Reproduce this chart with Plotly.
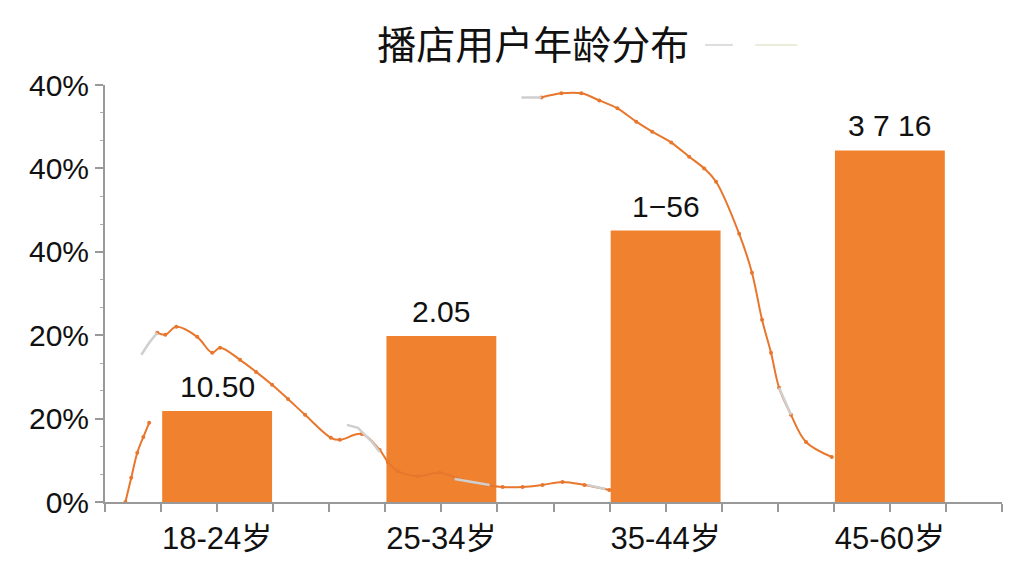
import plotly.graph_objects as go

# bars
age_groups = ["18-24岁", "25-34岁", "35-44岁", "45-60岁"]
bar_pos = [0, 1, 2, 3]
bar_values = [21.8, 39.8, 65.1, 84.3]
bar_labels = ["10.50", "2.05", "1−56", "3 7 16"]

# y axis ticks (labels as printed on the chart)
y_ticks = [0, 20, 40, 60, 80, 100]
y_ticktext = ["0%", "20%", "20%", "40%", "40%", "40%"]

# orange curve, in pieces
seg_a_x = [-0.409, -0.383, -0.356, -0.329, -0.303]
seg_a_y = [0, 5.8, 11.8, 15.6, 19.0]

seg_b_x = [-0.267, -0.231, -0.182, -0.089, -0.022, 0.013, 0.102, 0.174, 0.245, 0.316,
           0.392, 0.507, 0.547, 0.645, 0.725, 0.761, 0.806, 0.895, 0.992, 1.095,
           1.202, 1.273, 1.362, 1.451, 1.540, 1.638, 1.749]
seg_b_y = [40.6, 40.1, 42.0, 39.6, 35.8, 37.0, 34.1, 31.2, 28.1, 24.7,
           20.9, 15.4, 14.9, 16.3, 12.5, 9.6, 7.4, 6.2, 7.0, 5.3,
           4.1, 3.6, 3.6, 4.1, 4.8, 4.1, 2.9]

seg_c_x = [1.446, 1.535, 1.624, 1.704, 1.785, 1.869, 1.940, 2.025, 2.105, 2.172,
           2.225, 2.328, 2.385, 2.430, 2.470, 2.506, 2.559, 2.626, 2.741]
seg_c_y = [97.0, 98.0, 98.0, 96.3, 94.4, 91.2, 88.8, 86.2, 82.8, 80.0,
           76.8, 64.3, 55.0, 43.7, 35.8, 27.4, 20.9, 14.4, 10.8]

# grey pieces on top of the curve (None = gap)
grey_x = [-0.338, -0.303, -0.267, None, 0.579, 0.628, 0.690, 0.725, None,
          1.059, 1.215, None, 1.651, 1.731, None, 1.357, 1.446, None, 2.506, 2.559]
grey_y = [35.3, 38.2, 40.6, None, 18.5, 17.8, 14.4, 12.0, None,
          5.5, 4.1, None, 4.1, 3.1, None, 97.0, 97.0, None, 27.4, 20.9]

orange = "#EF812F"
line_orange = "#E8762D"
font_family = "Liberation Sans, Arial, Noto Sans CJK SC"

fig = go.Figure()
fig.add_bar(x=bar_pos, y=bar_values, width=0.49, marker_color=orange,
            marker_line_width=0, showlegend=False, hoverinfo="skip")

for xs, ys in [(seg_a_x, seg_a_y), (seg_b_x, seg_b_y), (seg_c_x, seg_c_y)]:
    fig.add_scatter(x=xs, y=ys, mode="lines+markers", line=dict(color=line_orange, width=2, shape="spline"),
                    marker=dict(size=4, color=line_orange), showlegend=False)

fig.add_scatter(x=grey_x, y=grey_y, mode="lines", line=dict(color="#CFCFCF", width=2.5),
                showlegend=False)

for x, v, t in zip(bar_pos, bar_values, bar_labels):
    fig.add_annotation(x=x, y=v, text=t, showarrow=False, yanchor="bottom", yshift=6,
                       font=dict(size=30, color="#111"))

# faint legend-like strokes next to the title
fig.add_shape(type="line", xref="paper", yref="paper", x0=0.669, x1=0.700, y0=1.096, y1=1.096,
              line=dict(color="#DDDDDD", width=2))
fig.add_shape(type="line", xref="paper", yref="paper", x0=0.725, x1=0.772, y0=1.096, y1=1.096,
              line=dict(color="#E9EDD9", width=2))

fig.update_layout(
    width=1016, height=568,
    margin=dict(l=97, r=22, t=77, b=74),
    paper_bgcolor="white", plot_bgcolor="white",
    font=dict(family=font_family, color="#111"),
    title=dict(text="播店用户年龄分布", x=0.517, y=0.935, xanchor="center", yanchor="middle",
               font=dict(size=39, color="#111")),
    bargap=0.5,
)
fig.update_xaxes(range=[-0.5, 3.5], tickvals=bar_pos, ticktext=age_groups,
                 showgrid=False, zeroline=False, showline=True, linecolor="#999", linewidth=2,
                 ticks="outside", ticklen=8, tickcolor="#999", tickwidth=2,
                 minor=dict(dtick=0.25, tick0=0, ticks="outside", ticklen=8, tickcolor="#999", tickwidth=1.5),
                 tickfont=dict(size=31))
fig.update_yaxes(range=[0, 100], tickvals=y_ticks, ticktext=y_ticktext,
                 showgrid=False, zeroline=False, showline=True, linecolor="#999", linewidth=2,
                 ticks="outside", ticklen=8, tickcolor="#999", tickwidth=2,
                 minor=dict(dtick=20 / 3, tick0=0, ticks="outside", ticklen=3, tickcolor="#aaa", tickwidth=1),
                 tickfont=dict(size=30))

fig.write_html("out.html")
